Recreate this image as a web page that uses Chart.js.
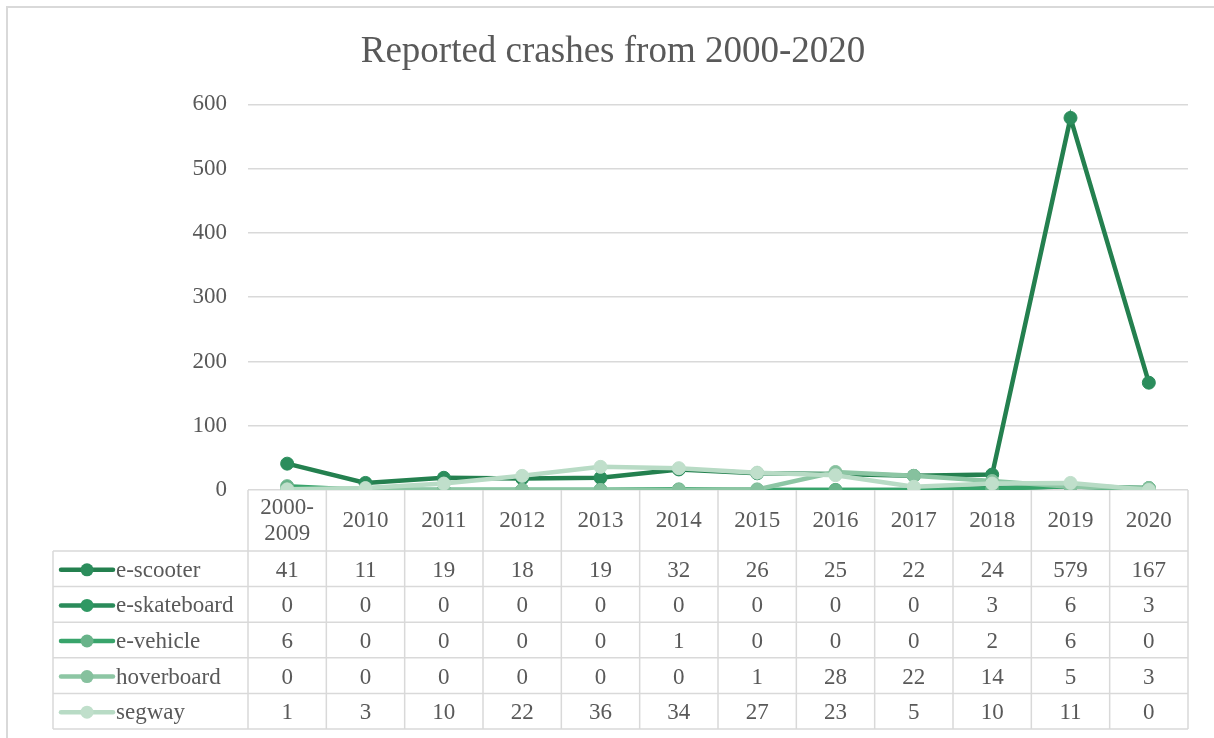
<!DOCTYPE html>
<html>
<head>
<meta charset="utf-8">
<title>Reported crashes from 2000-2020</title>
<script src="https://cdn.jsdelivr.net/npm/chart.js@4.4.1/dist/chart.umd.min.js"></script>
<style>
  html, body { margin: 0; padding: 0; background: #ffffff; }
  #wrap { width: 1214px; height: 738px; }
</style>
</head>
<body>
<div id="wrap"><canvas id="crashChart" width="1214" height="738"></canvas></div>
<script>
// categories (first one is split on two lines like in the source)
const categories = [['2000-', '2009'], '2010', '2011', '2012', '2013', '2014', '2015', '2016', '2017', '2018', '2019', '2020'];

const seriesNames = ['e-scooter', 'e-skateboard', 'e-vehicle', 'hoverboard', 'segway'];

const eScooter    = [41, 11, 19, 18, 19, 32, 26, 25, 22, 24, 579, 167];
const eSkateboard = [0, 0, 0, 0, 0, 0, 0, 0, 0, 3, 6, 3];
const eVehicle    = [6, 0, 0, 0, 0, 1, 0, 0, 0, 2, 6, 0];
const hoverboard  = [0, 0, 0, 0, 0, 0, 1, 28, 22, 14, 5, 3];
const segway      = [1, 3, 10, 22, 36, 34, 27, 23, 5, 10, 11, 0];

const yTicks = [0, 100, 200, 300, 400, 500, 600];

const seriesValues = [eScooter, eSkateboard, eVehicle, hoverboard, segway];
const lineColors   = ['#24804f', '#2a8b5a', '#38a46b', '#8dc6a4', '#b8dbc5'];
const markerColors = ['#2b8d5c', '#2f9863', '#68b389', '#86c19e', '#c0dfcb'];

const textColor = '#595959';
const gridColor = '#d9d9d9';
const font = '"Liberation Serif", "Times New Roman", serif';
const textSize = 23;

const headerH = 61;
const rowH = 35.6;
const tableLeft = 53;

const tablePlugin = {
  id: 'dataTable',
  beforeDatasetsDraw(chart) {
    const ctx = chart.ctx;
    const x = chart.scales.x;
    const area = chart.chartArea;
    const step = x.getPixelForValue(1) - x.getPixelForValue(0);
    const top = area.bottom;
    const headerBottom = top + headerH;
    const tableBottom = headerBottom + rowH * seriesNames.length;

    ctx.save();
    ctx.strokeStyle = gridColor;
    ctx.lineWidth = 2;
    // outer frame
    ctx.beginPath();
    ctx.moveTo(7, 738);
    ctx.lineTo(7, 7);
    ctx.lineTo(1214, 7);
    ctx.stroke();

    ctx.lineWidth = 1.5;
    ctx.beginPath();
    for (let r = 0; r <= seriesNames.length; r++) {
      const y = headerBottom + r * rowH;
      ctx.moveTo(tableLeft, y);
      ctx.lineTo(area.right, y);
    }
    for (let i = 0; i <= categories.length; i++) {
      const xx = x.getPixelForValue(0) - step / 2 + i * step;
      ctx.moveTo(xx, top);
      ctx.lineTo(xx, tableBottom);
    }
    ctx.moveTo(tableLeft, headerBottom);
    ctx.lineTo(tableLeft, tableBottom);
    ctx.stroke();
    ctx.restore();
  },
  afterDatasetsDraw(chart) {
    const ctx = chart.ctx;
    const x = chart.scales.x;
    const headerBottom = chart.chartArea.bottom + headerH;

    ctx.save();
    ctx.font = textSize + 'px ' + font;
    ctx.fillStyle = textColor;
    ctx.textBaseline = 'middle';
    seriesNames.forEach((name, r) => {
      const cy = headerBottom + r * rowH + rowH / 2 + 1;
      // legend key
      ctx.strokeStyle = lineColors[r];
      ctx.lineWidth = 4.5;
      ctx.lineCap = 'round';
      ctx.beginPath();
      ctx.moveTo(61, cy);
      ctx.lineTo(113, cy);
      ctx.stroke();
      ctx.fillStyle = markerColors[r];
      ctx.beginPath();
      ctx.arc(87, cy, 6.5, 0, Math.PI * 2);
      ctx.fill();

      ctx.fillStyle = textColor;
      ctx.textAlign = 'left';
      ctx.fillText(name, 116, cy + 1);
      ctx.textAlign = 'center';
      seriesValues[r].forEach((v, i) => {
        ctx.fillText(String(v), x.getPixelForValue(i), cy + 1);
      });
    });
    ctx.restore();
  }
};

const datasets = seriesNames.map((name, i) => ({
  label: name,
  data: seriesValues[i],
  borderColor: lineColors[i],
  backgroundColor: markerColors[i],
  pointBackgroundColor: markerColors[i],
  pointBorderColor: markerColors[i],
  pointBorderWidth: 1,
  pointRadius: 6.5,
  borderWidth: 4.5,
  tension: 0,
  order: seriesNames.length - i
}));

new Chart(document.getElementById('crashChart'), {
  type: 'line',
  data: {
    labels: categories,
    datasets: datasets
  },
  plugins: [tablePlugin],
  options: {
    responsive: false,
    animation: false,
    events: [],
    layout: { padding: { left: 38, right: 26, top: 0, bottom: 9 } },
    plugins: {
      legend: { display: false },
      tooltip: { enabled: false },
      title: {
        display: true,
        text: 'Reported crashes from 2000-2020',
        color: textColor,
        font: { family: font, size: 37, weight: 'normal' },
        padding: { top: 30, bottom: 30 }
      }
    },
    scales: {
      x: {
        offset: true,
        grid: { display: false, drawTicks: false },
        border: { display: false },
        ticks: {
          color: textColor,
          font: { family: font, size: textSize, lineHeight: 1.15 },
          padding: 18,
          crossAlign: 'center',
          maxRotation: 0,
          autoSkip: false
        },
        afterFit(scale) { scale.height = 239; }
      },
      y: {
        min: yTicks[0],
        max: yTicks[yTicks.length - 1],
        afterBuildTicks(scale) { scale.ticks = yTicks.map(v => ({ value: v })); },
        grid: { color: gridColor, lineWidth: 1.5, drawTicks: false },
        border: { display: false },
        ticks: {
          color: textColor,
          font: { family: font, size: textSize },
          padding: 21
        },
        afterFit(scale) { scale.width = 210; }
      }
    }
  }
});
</script>
</body>
</html>
